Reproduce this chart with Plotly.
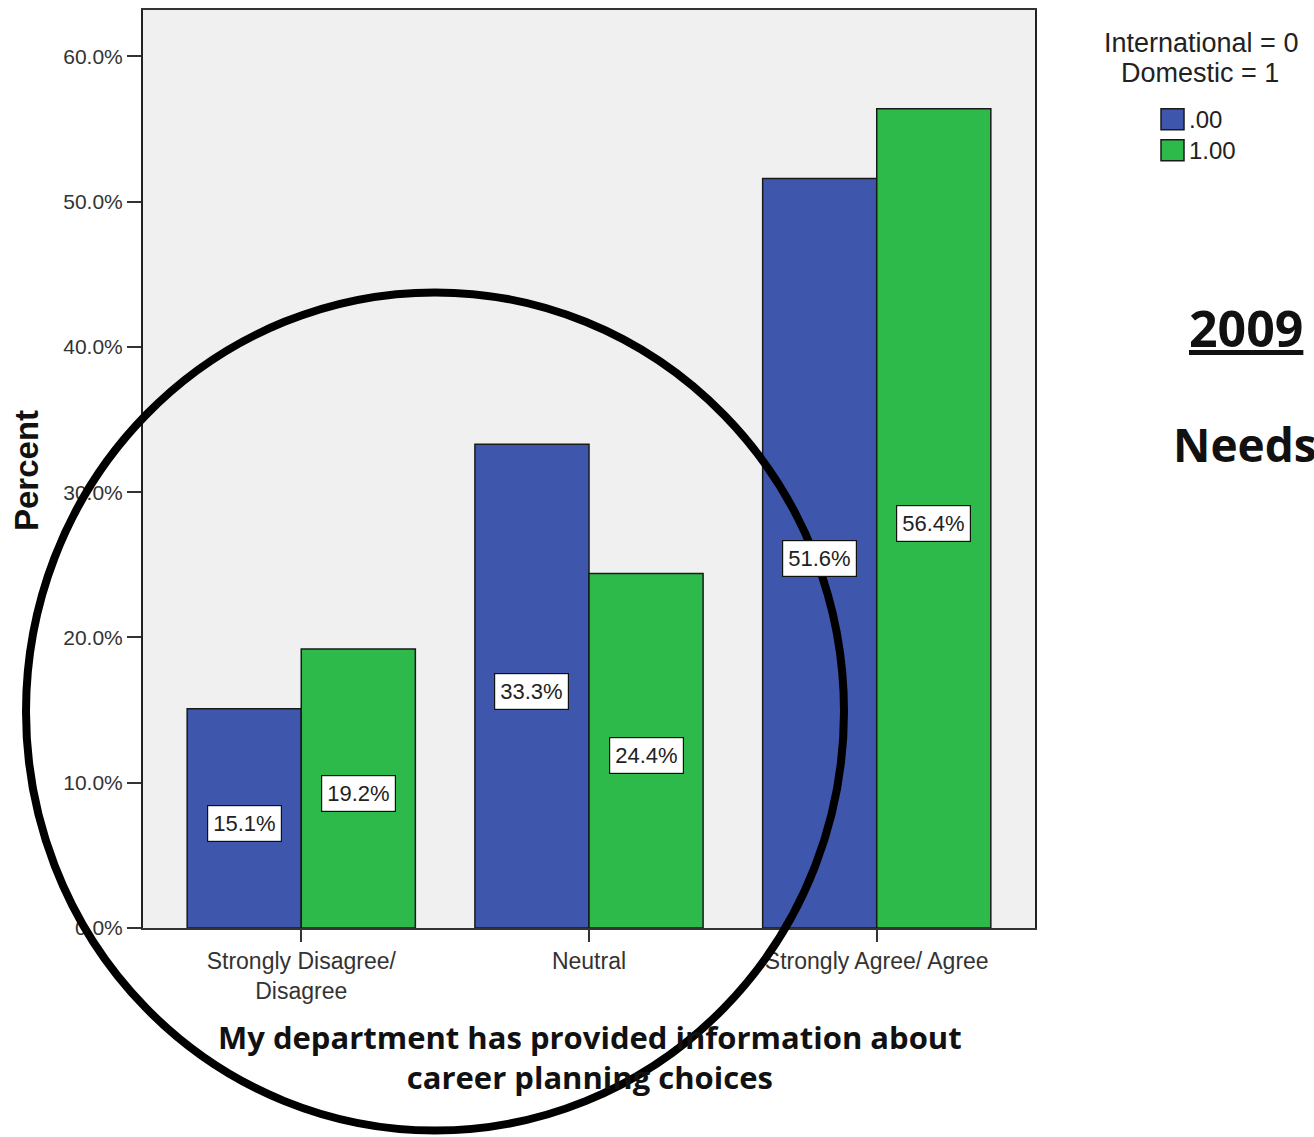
import plotly.graph_objects as go

# Survey response categories and percentages by student group
categories = ["Strongly Disagree/<br>Disagree", "Neutral", "Strongly Agree/ Agree"]
group_names = [".00", "1.00"]
international_pct = [15.1, 33.3, 51.6]
domestic_pct = [19.2, 24.4, 56.4]
series = [international_pct, domestic_pct]
colors = ["#3e56ab", "#2eb94b"]

y_ticks = [0, 10, 20, 30, 40, 50, 60]
y_tick_labels = ["0.0%", "10.0%", "20.0%", "30.0%", "40.0%", "50.0%", "60.0%"]

W, H = 1314, 1137
ML, MR, MT, MB = 143, 279, 8, 209
PW, PH = W - ML - MR, H - MT - MB


def px_x(px):
    return (px - ML) / PW


def px_y(py):
    return (H - MB - py) / PH


TICK_FONT = "Liberation Sans, Arial, sans-serif"
HEAD_FONT = "Open Sans, sans-serif"


def note(px, py, text, size, family=TICK_FONT, color="#222", xanchor="center", **kw):
    return dict(
        x=px_x(px), y=px_y(py), xref="paper", yref="paper",
        xanchor=xanchor, yanchor="middle", text=text, showarrow=False,
        font=dict(family=family, size=size, color=color, **kw.pop("font_extra", {})),
        **kw,
    )


fig = go.Figure()
for name, vals, col in zip(group_names, series, colors):
    fig.add_trace(go.Bar(
        x=categories, y=vals, name=name,
        marker=dict(color=col, line=dict(color="#1a1a1a", width=1.5)),
        showlegend=False,
    ))

bargap = 0.207
bar_w = (1 - bargap) / 2

# value labels in boxed annotations at mid-bar
annotations = []
for si, vals in enumerate(series):
    offset = (si - 0.5) * bar_w
    for ci, v in enumerate(vals):
        annotations.append(dict(
            x=ci + offset, y=v / 2, xref="x", yref="y",
            xanchor="center", yanchor="middle",
            text=f"{v:.1f}%", showarrow=False, yshift=-5,
            font=dict(family=TICK_FONT, size=22, color="#222"),
            bgcolor="white", bordercolor="#111", borderwidth=1.2, borderpad=5,
        ))

# axis titles
annotations.append(note(27, 470, "<b>Percent</b>", 33, color="#111", textangle=-90))
annotations.append(note(
    590, 1057,
    "<b>My department has provided information about<br>career planning choices</b>",
    31, family=HEAD_FONT, color="#111",
))

# legend block
annotations.append(note(1201, 41, "International = 0", 27))
annotations.append(note(1200, 71, "Domestic = 1", 27))
shapes = []
legend_rows = [118, 149]
for name, col, cy in zip(group_names, colors, legend_rows):
    shapes.append(dict(
        type="rect", xref="paper", yref="paper",
        x0=px_x(1161), x1=px_x(1184), y0=px_y(cy - 11), y1=px_y(cy + 10),
        fillcolor=col, line=dict(color="#1a1a1a", width=1.5),
    ))
    annotations.append(note(1187, cy, name, 24, xanchor="left"))

# side headings
annotations.append(note(1246, 327, "<b>2009</b>", 50, family=HEAD_FONT, color="#111",
                        font_extra=dict(lineposition="under")))
annotations.append(note(1171, 443, "<b>Needs?</b>", 46, family=HEAD_FONT, color="#111",
                        xanchor="left"))

# hand-drawn emphasis ellipse
shapes.append(dict(
    type="circle", xref="paper", yref="paper", layer="above",
    x0=px_x(26), x1=px_x(844), y0=px_y(1131), y1=px_y(291),
    line=dict(color="black", width=8),
))

fig.update_layout(
    width=W, height=H,
    margin=dict(l=ML, r=MR, t=MT, b=MB),
    paper_bgcolor="white", plot_bgcolor="#f0f0f0",
    barmode="group", bargap=bargap, bargroupgap=0,
    annotations=annotations, shapes=shapes,
    xaxis=dict(
        range=[-0.55, 2.55], showgrid=False, zeroline=False,
        showline=True, linecolor="#333", linewidth=1.5, mirror=True,
        ticks="outside", ticklen=12, tickcolor="#333", tickwidth=1.5,
        tickfont=dict(family=TICK_FONT, size=23, color="#333"),
    ),
    yaxis=dict(
        range=[0, 63.2], tickvals=y_ticks, ticktext=y_tick_labels,
        showgrid=False, zeroline=False,
        showline=True, linecolor="#222", linewidth=2, mirror=True,
        ticks="outside", ticklen=14, tickcolor="#333", tickwidth=1.5,
        tickfont=dict(family=TICK_FONT, size=21, color="#333"),
    ),
)

fig.write_html("out.html")
